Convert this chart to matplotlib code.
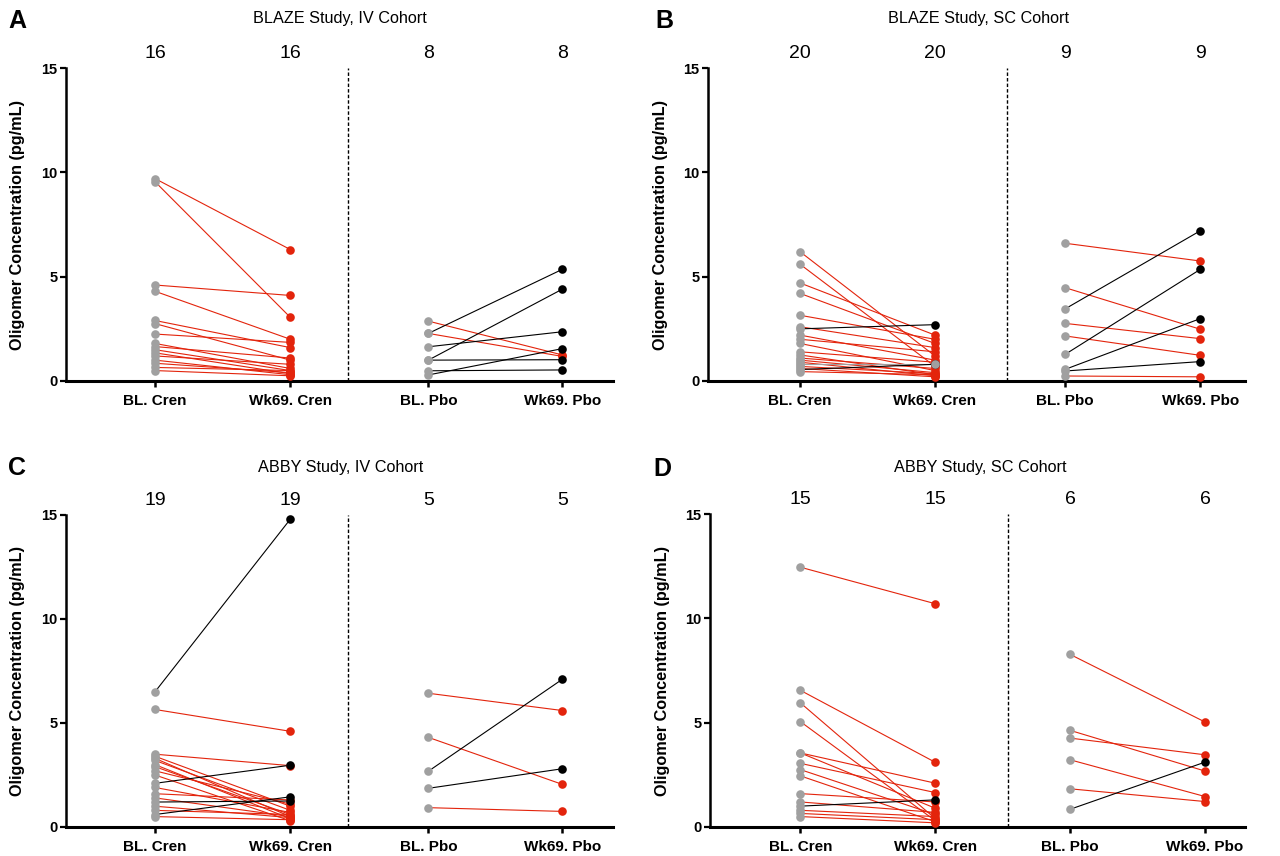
import matplotlib
matplotlib.use("Agg")
from matplotlib import pyplot as plt
import numpy as np

plt.rcParams['font.family'] = ['Liberation Sans', 'DejaVu Sans']

GREY = "#a0a0a0"
RED = "#e3240c"
BLACK = "#000000"

groups = ["BL. Cren", "Wk69. Cren", "BL. Pbo", "Wk69. Pbo"]
yticks = [0, 5, 10, 15]

# A: BLAZE Study, IV Cohort
a_title = "BLAZE Study, IV Cohort"
a_n = [16, 16, 8, 8]
a_cren_bl = [9.7, 9.55, 4.6, 4.3, 2.9, 2.75, 2.25, 1.8, 1.65, 1.5, 1.35, 1.2, 1.0, 0.85, 0.65, 0.5]
a_cren_wk = [6.3, 3.05, 4.1, 2.0, 1.6, 1.0, 1.85, 0.6, 1.1, 0.5, 0.35, 0.8, 0.3, 0.4, 0.5, 0.25]
a_pbo_bl = [2.87, 2.28, 2.28, 1.64, 1.0, 1.0, 0.49, 0.29]
a_pbo_wk = [1.25, 1.18, 5.35, 2.36, 4.4, 1.02, 0.53, 1.55]

# B: BLAZE Study, SC Cohort
b_title = "BLAZE Study, SC Cohort"
b_n = [20, 20, 9, 9]
b_cren_bl = [6.2, 5.6, 4.7, 4.2, 3.15, 2.6, 2.5, 2.2, 2.0, 1.8, 1.4, 1.25, 1.1, 1.0, 0.9, 0.8, 0.7, 0.6, 0.55, 0.45]
b_cren_wk = [1.2, 0.7, 2.2, 1.8, 2.0, 1.6, 2.7, 1.0, 1.4, 0.5, 0.9, 0.3, 0.6, 0.4, 0.25, 0.8, 0.35, 0.2, 0.8, 0.3]
b_pbo_bl = [6.6, 4.47, 3.46, 2.76, 2.16, 1.28, 0.56, 0.48, 0.24]
b_pbo_wk = [5.75, 2.48, 7.2, 2.03, 1.23, 5.35, 2.99, 0.93, 0.2]

# C: ABBY Study, IV Cohort
c_title = "ABBY Study, IV Cohort"
c_n = [19, 19, 5, 5]
c_cren_bl = [6.5, 5.65, 3.5, 3.4, 3.3, 3.2, 3.0, 2.9, 2.7, 2.5, 2.1, 1.9, 1.6, 1.4, 1.2, 1.0, 0.8, 0.6, 0.5]
c_cren_wk = [14.8, 4.6, 2.95, 1.0, 0.5, 0.8, 0.4, 0.6, 1.1, 0.3, 2.97, 0.7, 1.3, 0.5, 1.25, 0.45, 0.6, 1.45, 0.35]
c_pbo_bl = [6.43, 4.31, 2.68, 1.86, 0.93]
c_pbo_wk = [5.6, 2.05, 7.1, 2.8, 0.75]

# D: ABBY Study, SC Cohort
d_title = "ABBY Study, SC Cohort"
d_n = [15, 15, 6, 6]
d_cren_bl = [12.45, 6.55, 5.95, 5.05, 3.55, 3.55, 3.05, 2.75, 2.45, 1.6, 1.2, 1.0, 0.8, 0.65, 0.5]
d_cren_wk = [10.7, 3.1, 0.4, 0.3, 2.1, 0.9, 1.65, 0.6, 0.25, 1.2, 0.7, 1.3, 0.5, 0.35, 0.2]
d_pbo_bl = [8.27, 4.63, 4.26, 3.22, 1.83, 0.85]
d_pbo_wk = [5.03, 2.68, 3.46, 1.46, 1.22, 3.11]

W, H = 1280, 856
fig = plt.figure(figsize=(W / 100, H / 100), dpi=100)


def change_color(b, w):
    if w < b:
        return RED
    if w > b:
        return BLACK
    return GREY


def draw_panel(box, xs, xlim, divider, letter, letter_xy, title, title_xy, n,
               cren_bl, cren_wk, pbo_bl, pbo_wk):
    left, top, right, bottom = box
    ax = fig.add_axes([left / W, 1 - bottom / H, (right - left) / W, (bottom - top) / H])
    for x0, x1, bl, wk in [(xs[0], xs[1], cren_bl, cren_wk), (xs[2], xs[3], pbo_bl, pbo_wk)]:
        colors = [change_color(b, w) for b, w in zip(bl, wk)]
        for b, w, c in zip(bl, wk, colors):
            ax.plot([x0, x1], [b, w], color=c, lw=0.8, zorder=2, clip_on=False)
        ax.plot(np.full(len(bl), x0), bl, "o", ms=6.2, mew=0, color=GREY, zorder=3, clip_on=False)
        order = sorted(range(len(wk)), key=lambda i: colors[i] == GREY)
        for i in order:
            ax.plot([x1], [wk[i]], "o", ms=6.2, mew=0, color=colors[i], zorder=4, clip_on=False)

    ax.axvline(divider, color="k", lw=1.0, ls=(0, (2.5, 1.5)), zorder=1)

    ax.set_xlim(*xlim)
    ax.set_ylim(0, 15)
    for s in ["top", "right"]:
        ax.spines[s].set_visible(False)
    ax.spines["left"].set_bounds(0, 15)
    ax.spines["left"].set_linewidth(1.8)
    ax.spines["bottom"].set_linewidth(2.2)
    ax.set_yticks(yticks)
    ax.set_yticklabels([str(t) for t in yticks], fontsize=10.5, fontweight="bold")
    ax.set_xticks(xs)
    ax.set_xticklabels(groups, fontsize=11, fontweight="bold")
    ax.tick_params(axis="y", direction="out", length=4.5, width=1.6, pad=1.5)
    ax.tick_params(axis="x", direction="out", length=4.5, width=1.8, pad=5)

    for x, v in zip(xs, n):
        ax.text(x, 15.7, str(v), ha="center", va="center", fontsize=14, clip_on=False)

    fig.text(letter_xy[0] / W, 1 - letter_xy[1] / H, letter, fontsize=18,
             fontweight="bold", ha="left", va="center")
    fig.text(title_xy[0] / W, 1 - title_xy[1] / H, title, fontsize=11.7,
             ha="center", va="center")
    fig.text((left - 48) / W, 1 - (top + bottom) / 2 / H, "Oligomer Concentration (pg/mL)",
             rotation=90, fontsize=11.7, fontweight="bold", ha="center", va="center")
    return ax


draw_panel((66, 68, 613, 381), [0, 1, 2.02, 3.01], (-0.658, 3.385), 1.426,
           "A", (8, 21), a_title, (340, 18), a_n, a_cren_bl, a_cren_wk, a_pbo_bl, a_pbo_wk)
draw_panel((708, 68, 1245, 381), [0, 1, 1.965, 2.965], (-0.681, 3.296), 1.533,
           "B", (655, 21), b_title, (979, 18), b_n, b_cren_bl, b_cren_wk, b_pbo_bl, b_pbo_wk)
draw_panel((66, 515, 613, 827), [0, 1, 2.02, 3.01], (-0.658, 3.385), 1.426,
           "C", (8, 468), c_title, (341, 467), c_n, c_cren_bl, c_cren_wk, c_pbo_bl, c_pbo_wk)
draw_panel((710, 514, 1245, 827), [0, 1, 2.0, 3.0], (-0.670, 3.296), 1.54,
           "D", (653, 469), d_title, (980, 467), d_n, d_cren_bl, d_cren_wk, d_pbo_bl, d_pbo_wk)

fig.savefig("out.png", dpi=100)
